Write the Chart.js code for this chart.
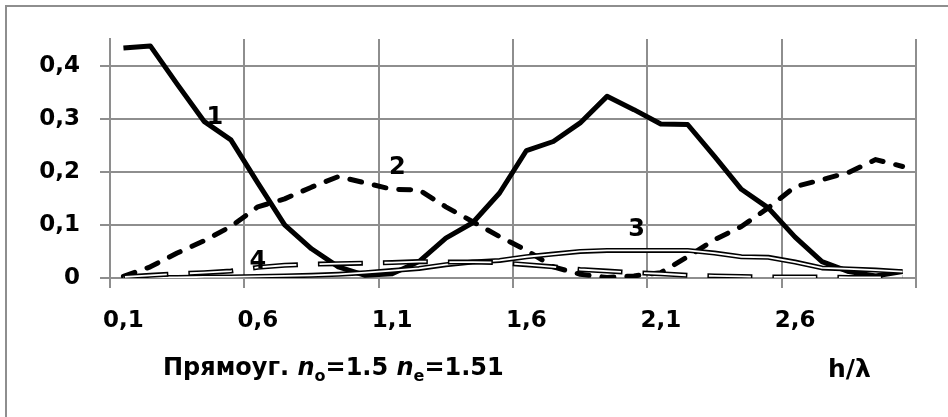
<!DOCTYPE html>
<html>
<head>
<meta charset="utf-8">
<title>Прямоуг.</title>
<script src="https://cdn.jsdelivr.net/npm/chart.js@4.4.1/dist/chart.umd.min.js"></script>
<style>
  html, body { margin: 0; padding: 0; background: #fff; }
</style>
</head>
<body>
<canvas id="line-chart" width="948" height="417"></canvas>
<script>
// h/lambda, one category per step
var hOverLambda = [0.1, 0.2, 0.3, 0.4, 0.5, 0.6, 0.7, 0.8, 0.9, 1.0,
                   1.1, 1.2, 1.3, 1.4, 1.5, 1.6, 1.7, 1.8, 1.9, 2.0,
                   2.1, 2.2, 2.3, 2.4, 2.5, 2.6, 2.7, 2.8, 2.9, 3.0];

var curve1 = [0.433, 0.437, 0.365, 0.295, 0.260, 0.179, 0.100, 0.055, 0.021, 0.005,
              0.008, 0.031, 0.075, 0.104, 0.160, 0.240, 0.257, 0.292, 0.342, 0.317,
              0.290, 0.289, 0.229, 0.167, 0.132, 0.077, 0.031, 0.012, 0.004, 0.012];

var curve2 = [0.003, 0.021, 0.047, 0.070, 0.097, 0.134, 0.149, 0.171, 0.191, 0.179,
              0.167, 0.166, 0.134, 0.106, 0.078, 0.052, 0.021, 0.007, 0.001, 0.004,
              0.010, 0.040, 0.072, 0.097, 0.132, 0.172, 0.185, 0.199, 0.223, 0.210];

var curve3 = [0.001, 0.001, 0.001, 0.002, 0.002, 0.003, 0.004, 0.005, 0.007, 0.010,
              0.014, 0.018, 0.025, 0.030, 0.033, 0.040, 0.045, 0.050, 0.052, 0.052,
              0.052, 0.052, 0.047, 0.040, 0.039, 0.030, 0.019, 0.017, 0.015, 0.012];

var curve4 = [0.002, 0.005, 0.008, 0.010, 0.013, 0.020, 0.024, 0.026, 0.027, 0.028,
              0.029, 0.031, 0.030, 0.030, 0.029, 0.025, 0.021, 0.016, 0.013, 0.010,
              0.008, 0.005, 0.004, 0.003, 0.002, 0.002, 0.002, 0.001, 0.001, 0.001];

var yTicks = [0, 0.1, 0.2, 0.3, 0.4];
var curveNames = ['1', '2', '3', '4'];

var FONT = "'DejaVu Sans', sans-serif";
var GRID = '#8e8e8e';

function comma(v) {
  return v === 0 ? '0' : v.toFixed(1).replace('.', ',');
}

// every 5th category gets a label and a grid line
function fifth(ctx) {
  return ctx.index === undefined || ctx.index % 5 === 0 ? GRID : 'rgba(0,0,0,0)';
}

function line(data, color, width, order, extra) {
  var ds = {
    data: data,
    borderColor: color,
    borderWidth: width,
    pointRadius: 0,
    tension: 0,
    fill: false,
    borderJoinStyle: 'round',
    order: order
  };
  for (var k in extra) ds[k] = extra[k];
  return ds;
}

var decor = {
  id: 'decor',
  beforeDraw: function (chart) {
    var c = chart.ctx;
    c.save();
    c.fillStyle = '#fff';
    c.fillRect(0, 0, chart.width, chart.height);
    c.strokeStyle = GRID;
    c.lineWidth = 2;
    c.strokeRect(6, 6, chart.width + 20, chart.height + 20);
    c.restore();
  },
  afterDatasetsDraw: function (chart) {
    var c = chart.ctx, xs = chart.scales.x, ys = chart.scales.y;
    // curve numbers, placed in data coordinates
    var at = [[3.4, 0.302], [10.2, 0.208], [19.1, 0.091], [5.0, 0.030]];
    c.save();
    c.fillStyle = '#000';
    c.font = 'bold 24px ' + FONT;
    c.textAlign = 'center';
    c.textBaseline = 'middle';
    curveNames.forEach(function (n, i) {
      c.fillText(n, xs.getPixelForValue(at[i][0]), ys.getPixelForValue(at[i][1]));
    });
    c.restore();
  },
  afterDraw: function (chart) {
    var c = chart.ctx;
    var big = 'bold 24px ' + FONT, ital = 'italic bold 24px ' + FONT, small = 'bold 16px ' + FONT;
    var runs = [
      ['Прямоуг. ', big, 0], ['n', ital, 0], ['o', small, 6],
      ['=1.5 ', big, 0], ['n', ital, 0], ['e', small, 6], ['=1.51', big, 0]
    ];
    c.save();
    c.fillStyle = '#000';
    c.textBaseline = 'alphabetic';
    var x = 163, y = 375;
    runs.forEach(function (r) {
      c.font = r[1];
      c.fillText(r[0], x, y + r[2]);
      x += c.measureText(r[0]).width;
    });
    c.font = 'bold 25px ' + FONT;
    c.fillText('h/λ', 828, 377);
    c.restore();
  }
};

var chart = new Chart(document.getElementById('line-chart'), {
  type: 'line',
  data: {
    labels: hOverLambda,
    datasets: [
      line(curve1, '#000', 5, 6),
      line(curve2, '#000', 5, 5, { borderDash: [12, 13], borderCapStyle: 'round' }),
      line(curve3, '#000', 5, 4),
      line(curve3, '#fff', 1.8, 3),
      line(curve4, '#000', 5, 2, { borderDash: [45, 20] }),
      line(curve4, '#fff', 1.8, 1, { borderDash: [42, 23], borderDashOffset: -1.5 })
    ]
  },
  options: {
    responsive: false,
    animation: false,
    layout: { padding: { left: 0, top: 39, right: 32, bottom: 0 } },
    plugins: { legend: { display: false }, tooltip: { enabled: false } },
    scales: {
      x: {
        type: 'category',
        offset: true,
        afterFit: function (s) { s.height = 139; },
        grid: { offset: true, color: fifth, lineWidth: 2, tickLength: 10 },
        border: { color: GRID, width: 2 },
        ticks: {
          autoSkip: false,
          maxRotation: 0,
          padding: 19,
          color: '#000',
          font: { family: FONT, size: 23, weight: 'bold' },
          callback: function (v, i) { return i % 5 === 0 ? comma(hOverLambda[i]) : ''; }
        }
      },
      y: {
        min: 0,
        max: 0.45,
        afterFit: function (s) { s.width = 110; },
        afterBuildTicks: function (s) { s.ticks = yTicks.map(function (v) { return { value: v }; }); },
        grid: { color: GRID, lineWidth: 2, tickLength: 10 },
        border: { color: GRID, width: 2 },
        ticks: {
          padding: 20,
          color: '#000',
          font: { family: FONT, size: 23, weight: 'bold' },
          callback: function (v) { return comma(v); }
        }
      }
    }
  },
  plugins: [decor]
});
</script>
</body>
</html>
